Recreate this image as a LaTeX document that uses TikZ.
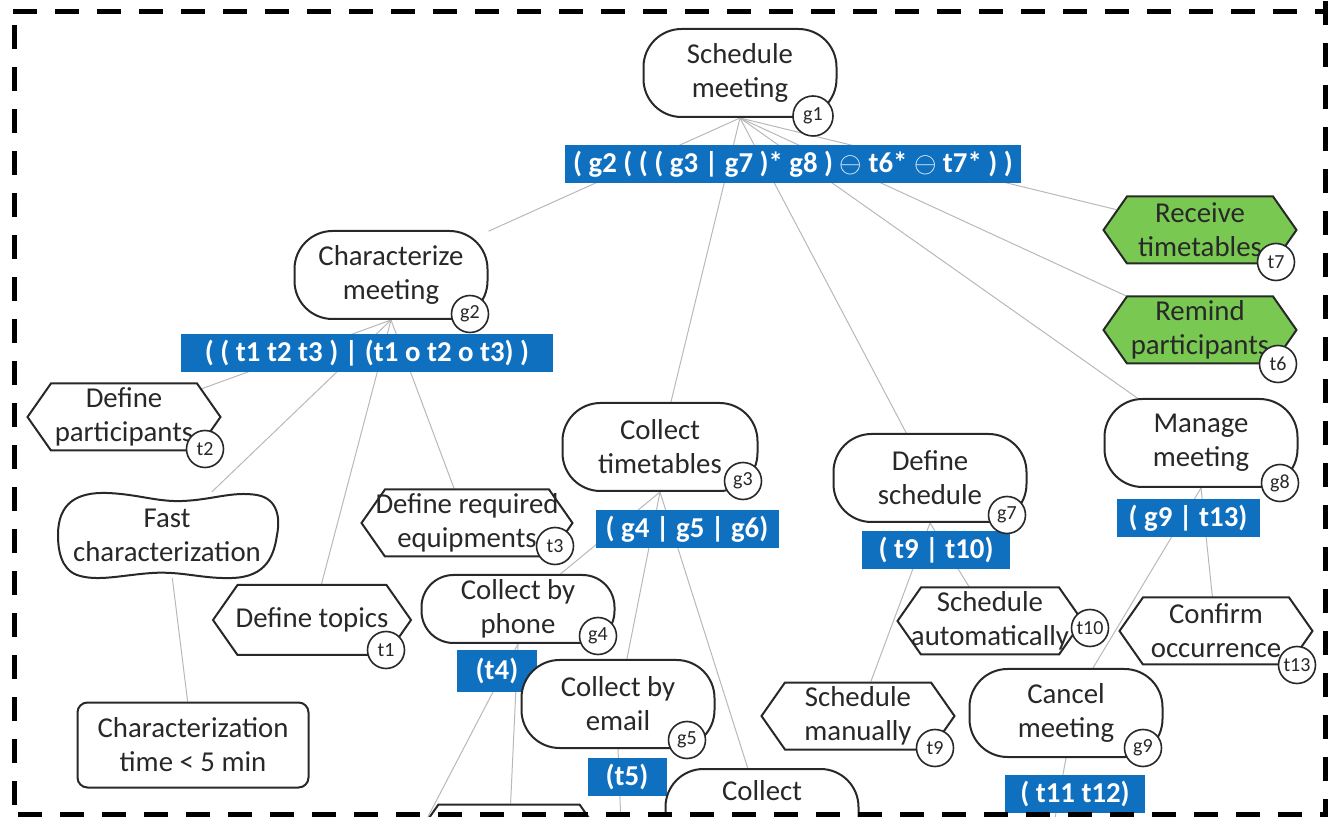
\documentclass[tikz,border=0pt]{standalone}
\usepackage{fontspec}
\setmainfont{Carlito}
\usepackage{xcolor}
\usetikzlibrary{shapes.symbols,backgrounds,calc}
\definecolor{barblue}{RGB}{16,112,192}
\definecolor{taskgreen}{RGB}{120,200,82}
\definecolor{inkgray}{RGB}{40,40,40}

\begin{document}
\begin{tikzpicture}[x=0.5pt,y=-0.5pt,font=\fontsize{14.4}{17}\selectfont,text=inkgray,
  goal/.style={draw=inkgray, line width=1pt, fill=white, rounded corners=19pt, minimum width=96.5pt, minimum height=44pt, inner sep=1pt, align=center},
  task/.style={signal, signal to=west and east, signal pointer angle=110, draw=inkgray, line width=1pt, fill=white, minimum width=96.5pt, minimum height=33.5pt, inner xsep=-10pt, inner ysep=1pt, align=center},
  bar/.style={fill=barblue, text=white, font=\fontsize{14.4}{17}\selectfont\bfseries, minimum height=19pt, inner sep=0pt},
  idbadge/.style={circle, draw=inkgray, line width=0.8pt, fill=white, inner sep=0pt, minimum size=18.5pt, font=\fontsize{10}{11}\selectfont},
  link/.style={draw=black!28, line width=0.5pt},
  frame/.style={draw=black, line width=2.5pt, dash pattern=on 12pt off 9pt}]
  \useasboundingbox (0,0) rectangle (1328,817);

  % root goal
  \node[goal] (g1) at (740,73) {Schedule\\meeting};
  \node[bar, minimum width=228pt] (g1bar) at (793,164) {( g2 ( ( ( g3 | g7 )* g8 ) $\ominus$ t6* $\ominus$ t7* ) )};

  % characterize
  \node[goal] (g2) at (391,275) {Characterize\\meeting};
  \node[bar, minimum width=186pt] (g2bar) at (367,353) {( ( t1 t2 t3 ) | (t1 o t2 o t3) )};
  \node[task] (t2) at (124,417) {Define\\participants};
  \node[task, minimum width=105.5pt] (t3) at (467,523) {Define required\\equipments};
  \node[task, minimum width=99pt, minimum height=35pt] (t1) at (312,620) {Define topics};
  \node[align=center, minimum width=109.5pt, minimum height=42.5pt, inner sep=0pt] (fast) at (167,535) {Fast\\characterization};
  \node[goal, rounded corners=5pt, minimum width=115.5pt, minimum height=42.5pt] (chartime) at (193,745) {Characterization\\time < 5 min};

  % collect
  \node[goal, minimum width=97.5pt] (g3) at (660,447) {Collect\\timetables};
  \node[bar, minimum width=91.5pt] (g3bar) at (687,529) {( g4 | g5 | g6)};
  \node[goal, minimum height=34pt, rounded corners=16pt] (g4) at (518,609) {Collect by\\phone};
  \node[bar, minimum width=40pt, minimum height=21pt] (g4bar) at (497,671) {(t4)};
  \node[goal] (g5) at (618,704) {Collect by\\email};
  \node[bar, minimum width=39.5pt] (g5bar) at (627,777) {(t5)};
  \node[goal] (g6) at (762,813) {Collect\\\strut};
  \node[task, minimum width=94pt] (t4) at (509,838) {};
  \coordinate (t4far) at (395,880);
  \coordinate (t5far) at (624,900);

  % schedule
  \node[goal] (g7) at (930,478) {Define\\schedule};
  \node[bar, minimum width=74pt] (g7bar) at (936,550) {( t9 | t10)};
  \node[task, minimum width=92.5pt] (t10) at (990,621) {Schedule\\automatically};
  \node[task] (t9) at (858,716) {Schedule\\manually};

  % right side
  \node[task, fill=taskgreen] (t7) at (1200,230) {Receive\\timetables};
  \node[task, fill=taskgreen] (t6) at (1200,330) {Remind\\participants};
  \node[goal] (g8) at (1201,443) {Manage\\meeting};
  \node[bar, minimum width=71.5pt] (g8bar) at (1188,518) {( g9 | t13)};
  \node[task] (t13) at (1216,631) {Confirm\\occurrence};
  \node[goal] (g9) at (1066,713) {Cancel\\meeting};
  \node[bar, minimum width=70pt] (g9bar) at (1075,794) {( t11 t12)};
  \coordinate (g9far) at (1040,900);

  % id badges
  \node[idbadge, minimum size=20pt] (g1id) at (813,116) {g1};
  \node[idbadge] (g2id) at (470,314) {g2};
  \node[idbadge] (g3id) at (743,481) {g3};
  \node[idbadge] (g4id) at (598,636) {g4};
  \node[idbadge] (g5id) at (687,740) {g5};
  \node[idbadge] (g7id) at (1007,515) {g7};
  \node[idbadge] (g8id) at (1280,483) {g8};
  \node[idbadge] (g9id) at (1143,748) {g9};
  \node[idbadge] (t1id) at (386,650) {t1};
  \node[idbadge] (t2id) at (205,449) {t2};
  \node[idbadge] (t3id) at (555,546) {t3};
  \node[idbadge] (t6id) at (1278,364) {t6};
  \node[idbadge] (t7id) at (1276,262) {t7};
  \node[idbadge] (t9id) at (935,748) {t9};
  \node[idbadge] (t10id) at (1090,628) {t10};
  \node[idbadge] (t13id) at (1297,665) {t13};

  % links behind everything
  \begin{pgfonlayer}{background}
    \foreach \kid in {g2,g3,g7,g8,t6,t7} \draw[link] (g1.south) -- (\kid);
    \foreach \kid in {t2,fast,t1,t3} \draw[link] (g2.south) -- (\kid);
    \draw[link] (fast) -- (chartime);
    \foreach \kid in {g4,g5,g6} \draw[link] (g3.south) -- (\kid);
    \draw[link] (g4.south) -- (t4);
    \draw[link] (g4.south) -- (t4far);
    \draw[link] (g5.south) -- (t5far);
    \foreach \kid in {t9,t10} \draw[link] (g7.south) -- (\kid);
    \foreach \kid in {g9,t13} \draw[link] (g8.south) -- (\kid);
    \draw[link] (g9.south) -- (g9far);
    % softgoal outline
    \begin{scope}[shift={(fast.center)}]
      \draw[draw=inkgray, line width=1pt, fill=white] (-109,0) .. controls (-109,-32) and (-90,-43) .. (-60,-42)
        .. controls (-30,-41) and (-10,-33) .. (15,-34)
        .. controls (45,-35) and (65,-44) .. (90,-40)
        .. controls (112,-36) and (113,-15) .. (110,0)
        .. controls (107,20) and (100,42) .. (65,43)
        .. controls (35,44) and (15,36) .. (-15,38)
        .. controls (-45,40) and (-70,47) .. (-90,40)
        .. controls (-106,34) and (-109,15) .. cycle;
    \end{scope}
  \end{pgfonlayer}

  % dashed frame
  \draw[frame] (13,12) -- (1328,12);
  \draw[frame] (14,25) -- (14,817);
  \draw[frame] (1325,1) -- (1325,817);
  \draw[frame] (18,814) -- (1328,814);
\end{tikzpicture}
\end{document}
